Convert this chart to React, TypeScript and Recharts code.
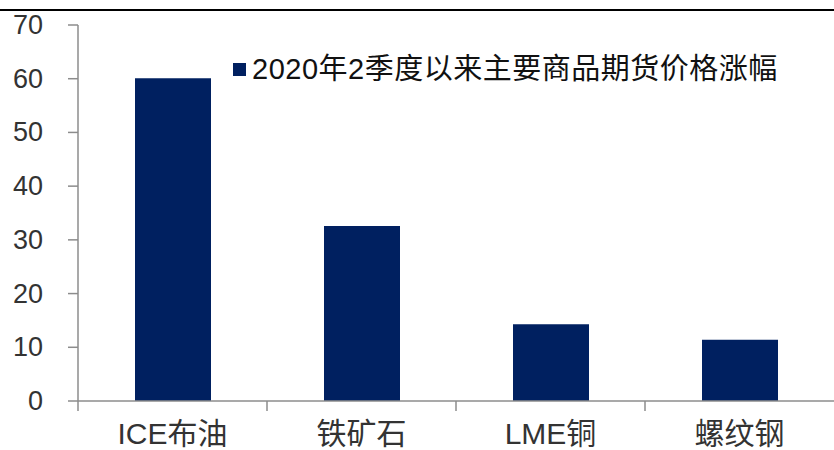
import React from 'react';
import { BarChart, Bar, XAxis, YAxis, Legend } from 'recharts';

const categories = ['ICE布油', '铁矿石', 'LME铜', '螺纹钢'];
const values = [60.1, 32.6, 14.3, 11.4];
const yTicks = [0, 10, 20, 30, 40, 50, 60, 70];
const seriesName = '2020年2季度以来主要商品期货价格涨幅';

const data = categories.map((name, i) => ({ name, value: values[i] }));

const FONT = "'Liberation Sans', Arial, 'Noto Sans CJK SC', sans-serif";
const BAR_COLOR = '#002060';
const AXIS_COLOR = '#8c8c8c';

const XTick = (props: any) => {
  const { x, y, payload } = props;
  const off = payload && typeof payload.offset === 'number' ? payload.offset : 94.5;
  return (
    <g>
      <line x1={x - off} y1={y} x2={x - off} y2={y + 10} stroke={AXIS_COLOR} strokeWidth={1.5} />
      <text x={x} y={y + 43} textAnchor="middle" fontSize={30} fill="#333" fontFamily={FONT}>
        {payload.value}
      </text>
    </g>
  );
};

const YTick = (props: any) => {
  const { x, y, payload } = props;
  return (
    <text x={x} y={y + 9} textAnchor="end" fontSize={27} fill="#333" fontFamily={FONT}>
      {payload.value}
    </text>
  );
};

const LegendContent = () => (
  <div style={{ display: 'flex', alignItems: 'center', fontFamily: FONT, whiteSpace: 'nowrap' }}>
    <span style={{ display: 'inline-block', width: 13, height: 13, background: BAR_COLOR, marginRight: 6 }} />
    <span style={{ fontSize: 29, color: '#111', letterSpacing: 0.5, lineHeight: '34px' }}>{seriesName}</span>
  </div>
);

export default function App() {
  return (
    <div style={{ position: 'absolute', left: 0, top: 0, width: 834, height: 450, background: '#fff', overflow: 'hidden' }}>
      <div style={{ position: 'absolute', left: 0, top: 9, width: 834, height: 2, background: '#000' }} />
      <BarChart width={834} height={450} data={data} margin={{ top: 25, right: 0, bottom: 0, left: 0 }}>
        <XAxis
          dataKey="name"
          height={49}
          tickLine={false}
          tickSize={0}
          tickMargin={0}
          axisLine={{ stroke: AXIS_COLOR, strokeWidth: 1.5 }}
          tick={<XTick />}
          interval={0}
        />
        <YAxis
          width={78}
          domain={[0, 70]}
          ticks={yTicks}
          interval={0}
          tickSize={10}
          tickMargin={25}
          tickLine={{ stroke: AXIS_COLOR, strokeWidth: 1.5 }}
          axisLine={{ stroke: AXIS_COLOR, strokeWidth: 1.5 }}
          tick={<YTick />}
        />
        <Legend
          layout="horizontal"
          verticalAlign="middle"
          align="center"
          content={<LegendContent />}
          wrapperStyle={{ position: 'absolute', top: 52, left: 233, width: 'auto' }}
        />
        <Bar dataKey="value" name={seriesName} fill={BAR_COLOR} barSize={76} isAnimationActive={false} />
      </BarChart>
    </div>
  );
}
